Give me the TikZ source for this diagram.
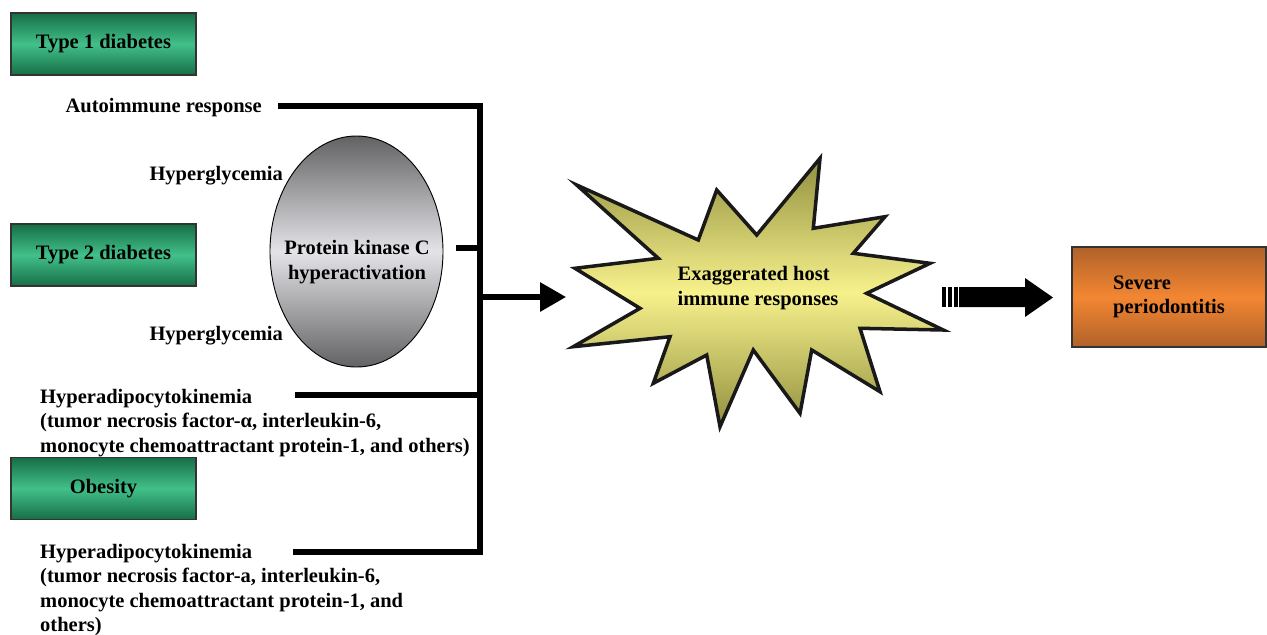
\documentclass[tikz,border=0pt]{standalone}
\usepackage{fontspec}
\setmainfont{Liberation Serif}
\usetikzlibrary{calc, arrows.meta, shapes.geometric}
\definecolor{dkgreen}{RGB}{22,110,70}
\definecolor{ltgreen}{RGB}{66,192,138}
\definecolor{dkgray}{RGB}{98,98,100}
\definecolor{ltgray}{RGB}{228,228,232}
\definecolor{dkolive}{RGB}{146,144,64}
\definecolor{ltyellow}{RGB}{247,241,140}
\definecolor{dkorange}{RGB}{176,98,42}
\definecolor{ltorange}{RGB}{243,134,50}

\begin{document}
\begin{tikzpicture}[x=0.03cm, y=-0.03cm,
    every node/.style={font=\fontsize{17.5}{20.9}\selectfont\bfseries},
    disease/.style={draw=black!80, line width=0.9pt, top color=dkgreen, bottom color=dkgreen,
        middle color=ltgreen, minimum width=5.55cm, minimum height=1.86cm, inner sep=0},
    txt/.style={inner sep=0, align=left},
    pkc/.style={ellipse, draw=black, line width=0.8pt, top color=dkgray, bottom color=dkgray,
        middle color=ltgray, minimum width=5.19cm, minimum height=6.93cm, inner sep=0},
    outcome/.style={draw=black!80, line width=0.9pt, top color=dkorange, bottom color=dkorange,
        middle color=ltorange, minimum width=5.82cm, minimum height=3cm, inner sep=0, align=left},
    bus/.style={line width=4.3pt},
    burst/.style={draw=black!90, line width=3pt, line join=miter, top color=dkolive,
        bottom color=dkolive, middle color=ltyellow}
]
\useasboundingbox (0,0) rectangle (1267,634);

% disease boxes
\node[disease] (t1) at (103.5,44) {Type 1 diabetes};
\node[disease] (t2) at (103.5,255) {Type 2 diabetes};
\node[disease] (ob) at (103.5,488.5) {Obesity};

% mechanisms
\node[txt, anchor=base east] (auto) at (262,112) {Autoimmune response};
\node[txt, anchor=base east] (hg1) at (283,180) {Hyperglycemia};
\node[txt, anchor=base east] (hg2) at (283,340) {Hyperglycemia};
\node[pkc] (pkc) at (356.5,251.5) {};
\node[txt, align=center] (pkclab) at (357,262) {Protein kinase C\\hyperactivation};
\node[txt, anchor=north west] (adipo1) at (40,389)
    {Hyperadipocytokinemia\\(tumor necrosis factor-α, interleukin-6,\\monocyte chemoattractant protein-1, and others)};
\node[txt, anchor=north west] (adipo2) at (40,544)
    {Hyperadipocytokinemia\\(tumor necrosis factor-a, interleukin-6,\\monocyte chemoattractant protein-1, and\\others)};

% bus
\coordinate (a1) at (278,106);
\coordinate (a2) at (456,248);
\coordinate (a3) at (295,395);
\coordinate (a4) at (293,552);
\coordinate (j1) at (480,106);
\coordinate (j2) at (480,248);
\coordinate (j3) at (480,395);
\coordinate (j4) at (480,552);
\coordinate (jm) at (480,297);
\coordinate (sin) at (566,297);
\draw[bus] (a1) -- (j1) -- (j4) -- (a4);
\draw[bus] (a2) -- (j2);
\draw[bus] (a3) -- (j3);
\draw[bus, -{Triangle[length=22pt, width=24pt]}] (jm) -- (sin);

% burst
\draw[burst] (576.7,185) -- (698.3,240) -- (716.7,190) -- (756.7,235) -- (820,158.3)
    -- (813.3,228.3) -- (885,216.7) -- (853.3,253.3) -- (930,263.3) -- (866.7,293.3)
    -- (943.3,330) -- (860,328.3) -- (880,391.7) -- (811.7,350) -- (800,413.3)
    -- (753.3,350) -- (720,426.7) -- (706.7,355) -- (653.3,383.3) -- (670,336.7)
    -- (573.3,346.7) -- (640,308.3) -- (575,268.3) -- (658.3,258.3) -- cycle;
\node[txt] (host) at (758,288) {Exaggerated host\\immune responses};

% block arrow
\foreach \bx in {942,948,954}
    \fill (\bx,287) rectangle ++(3.5,20);
\fill (959,287) -- (1025,287) -- (1025,278) -- (1053,297.5) -- (1025,317)
    -- (1025,307) -- (959,307) -- cycle;

% outcome
\node[outcome] (perio) at (1169,297) {Severe\\periodontitis};
\end{tikzpicture}
\end{document}
